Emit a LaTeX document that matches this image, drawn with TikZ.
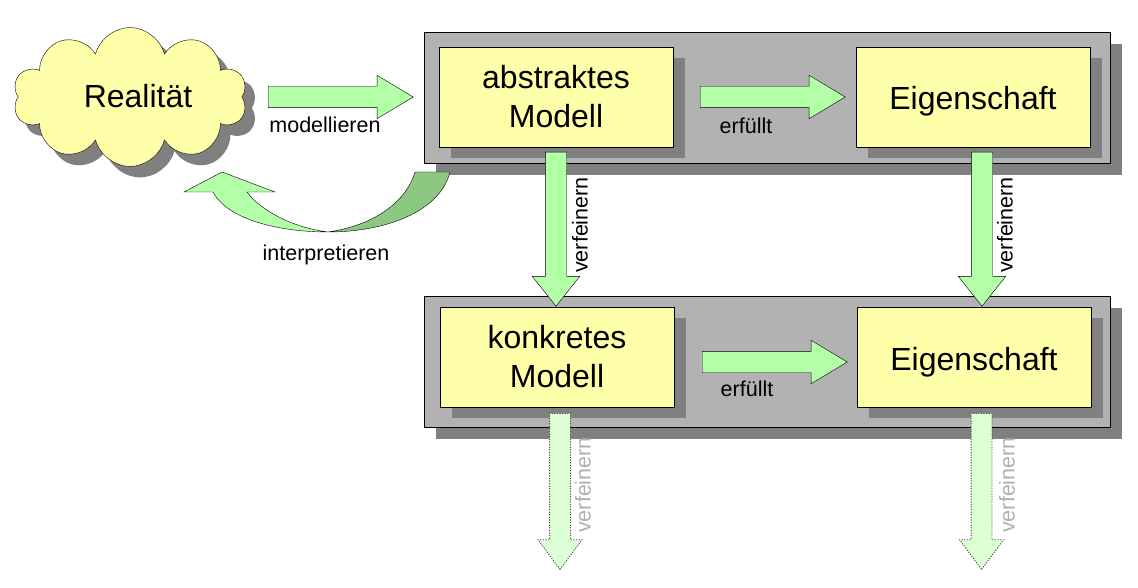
\documentclass[tikz,border=0pt]{standalone}
\usepackage{fontspec}
\setmainfont{Liberation Sans}
\usetikzlibrary{shapes.symbols,shapes.arrows,positioning,calc}

\definecolor{boxyellow}{RGB}{255,255,170}
\definecolor{framegray}{RGB}{178,178,178}
\definecolor{shadowgray}{RGB}{128,128,128}
\definecolor{arrowgreen}{RGB}{179,255,168}
\definecolor{darkgreen}{RGB}{140,200,130}
\definecolor{fadegreen}{RGB}{220,255,214}
\definecolor{fadegray}{RGB}{176,176,176}

\tikzset{
    modelbox/.style={draw, fill=boxyellow, minimum width=234pt, minimum height=100pt,
        inner sep=0pt, align=center, font=\fontsize{32}{39}\selectfont},
    fatarrow/.style={single arrow, draw, fill=arrowgreen, inner xsep=0pt, inner ysep=10.5pt,
        single arrow head extend=11pt, single arrow tip angle=62, anchor=tail},
    downarrow/.style={fatarrow, rotate=-90, single arrow head extend=13pt, single arrow tip angle=77},
    fadearrow/.style={downarrow, draw=black!70, line width=0.9pt, dash pattern=on 1.2pt off 1.4pt,
        fill=fadegreen, inner ysep=10pt, single arrow head extend=11.5pt, single arrow tip angle=73},
    smalllabel/.style={font=\fontsize{21.5}{24}\selectfont, inner sep=0pt}
}

\begin{document}
\begin{tikzpicture}[x=1pt,y=-1pt,>=latex]
    \useasboundingbox (0,0) rectangle (1138,588);

    % the two gray frames with their shadows
    \foreach \y in {32,296} {
        \fill[shadowgray] (436,\y+12) rectangle (1122,\y+143);
        \draw[fill=framegray] (424,\y) rectangle (1110,\y+131);
    }

    % shadows of the yellow boxes
    \foreach \x/\y in {556/97, 973/97, 557/357, 974/357}
        \fill[shadowgray] (\x-105,\y-39) rectangle (\x+129,\y+61);

    % the models and their properties
    \node[modelbox] (abs) at (556,97) {abstraktes\\Modell};
    \node[modelbox] (eig1) at (973,97) {\raisebox{-13pt}[0pt][0pt]{Eigenschaft}};
    \node[modelbox] (kon) at (557,357) {konkretes\\Modell};
    \node[modelbox] (eig2) at (974,357) {\raisebox{-13pt}[0pt][0pt]{Eigenschaft}};

    % the reality cloud
    \node[cloud, cloud puffs=10, aspect=1.7, fill=shadowgray, minimum width=234pt,
        minimum height=139pt] at (140,108) {};
    \node[cloud, cloud puffs=10, aspect=1.7, draw, fill=boxyellow, minimum width=234pt,
        minimum height=139pt] (real) at (130,97) {};
    \node[font=\fontsize{32}{39}\selectfont] (reallab) at (138,96) {Realit\"at};

    % block arrows, placed by their tails
    \node[fatarrow, minimum height=145pt] (modarr) at (268,97) {};
    \node[fatarrow, minimum height=145pt] (erfarr1) at (700,97) {};
    \node[fatarrow, minimum height=145pt] (erfarr2) at (702,362) {};
    \node[downarrow, minimum height=154pt] (verarr1) at (556,152) {};
    \node[downarrow, minimum height=154pt] (verarr2) at (982,152) {};
    \node[fadearrow, minimum height=156pt] (verarr3) at (560,413) {};
    \node[fadearrow, minimum height=156pt] (verarr4) at (981.5,413) {};

    % the curved arrow back to reality
    \draw[fill=darkgreen] (328,232) .. controls (385,232) and (440,212) .. (450,172)
        -- (415,172) .. controls (405,205) and (370,226) .. cycle;
    \draw[fill=arrowgreen] (184,192) -- (222,172) -- (275,192) -- (247,192)
        .. controls (262,212) and (295,228) .. (328,232)
        .. controls (280,232) and (228,220) .. (213,192) -- cycle;

    % labels of the arrows
    \node[smalllabel] (modlab) at (325,125) {modellieren};
    \node[smalllabel] (intlab) at (326,255) {interpretieren};
    \node[smalllabel] (erflab1) at (746,126) {erf\"ullt};
    \node[smalllabel] (erflab2) at (747,389) {erf\"ullt};
    \node[smalllabel, rotate=90] (verlab1) at (580,225) {verfeinern};
    \node[smalllabel, rotate=90] (verlab2) at (1005,225) {verfeinern};
    \node[smalllabel, rotate=90, text=fadegray] (verlab3) at (583,485) {verfeinern};
    \node[smalllabel, rotate=90, text=fadegray] (verlab4) at (1007,485) {verfeinern};
\end{tikzpicture}
\end{document}
